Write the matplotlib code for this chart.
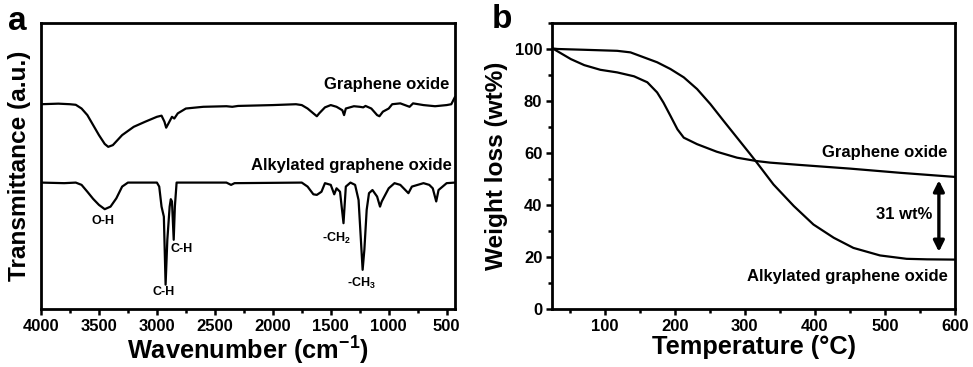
import matplotlib
matplotlib.use("Agg")
import matplotlib.pyplot as plt
from matplotlib.ticker import MultipleLocator

# ---------------- data ----------------
# FTIR (panel a), arbitrary transmittance units
go_wn = [4000, 3850, 3750, 3700, 3650, 3600, 3550, 3500, 3450, 3420, 3380, 3300,
         3200, 3100, 3000, 2960, 2935, 2920, 2900, 2870, 2850, 2820, 2750, 2600,
         2400, 2350, 2300, 2000, 1800, 1750, 1700, 1650, 1620, 1600, 1550, 1500,
         1450, 1400, 1385, 1370, 1300, 1250, 1220, 1200, 1150, 1100, 1080, 1050,
         1000, 970, 900, 820, 790, 700, 600, 500, 460, 430]
go_tr = [71.6, 71.8, 71.6, 71.4, 70.1, 67.8, 64.3, 60.8, 57.7, 56.7, 57.3, 60.8,
         63.7, 65.5, 67.2, 67.6, 65.5, 63.4, 64.9, 67.2, 66.6, 68.4, 70.1, 70.7,
         70.9, 70.7, 71.0, 71.3, 71.6, 71.3, 70.1, 68.4, 67.4, 68.4, 70.5, 71.3,
         70.7, 69.5, 67.8, 70.1, 70.9, 70.7, 70.5, 71.0, 70.1, 67.8, 67.4, 69.0,
         70.1, 71.6, 71.9, 70.7, 71.9, 71.3, 70.9, 71.3, 71.6, 74.0]

ago_wn = [4000, 3800, 3700, 3650, 3600, 3550, 3500, 3450, 3400, 3350, 3300, 3250,
          3000, 2980, 2960, 2940, 2925, 2910, 2890, 2880, 2870, 2855, 2845, 2830,
          2400, 2360, 2330, 1750, 1700, 1650, 1620, 1580, 1550, 1500, 1470, 1450,
          1420, 1390, 1370, 1330, 1290, 1260, 1240, 1225, 1210, 1190, 1170, 1140,
          1100, 1075, 1060, 1000, 950, 900, 830, 800, 700, 650, 620, 590, 570,
          500, 430]
ago_tr = [44.2, 44.0, 44.2, 43.4, 41.0, 38.5, 36.4, 34.9, 35.8, 38.7, 42.8, 44.2,
          44.2, 42.8, 35.8, 32.3, 8.5, 24.2, 35.8, 38.4, 37.6, 24.2, 35.8, 44.2,
          44.2, 43.4, 44.0, 44.2, 42.8, 40.1, 39.9, 41.0, 44.0, 43.4, 40.1, 42.2,
          41.0, 30.0, 42.8, 44.2, 43.4, 38.1, 24.2, 13.7, 20.7, 34.7, 40.5, 41.6,
          39.3, 35.8, 37.6, 42.2, 44.0, 43.4, 40.5, 42.8, 44.0, 43.4, 42.2, 37.6, 41.6,
          44.0, 44.2]

# TGA (panel b)
go_T = [26, 52, 71, 94, 118, 142, 161, 175, 184, 194, 204, 213, 232, 260, 289,
        317, 336, 379, 450, 521, 600]
go_w = [100.2, 96.1, 93.8, 92.0, 91.0, 89.5, 87.2, 83.3, 79.4, 74.3, 69.1, 65.9,
        63.4, 60.5, 58.2, 56.9, 56.3, 55.4, 54.0, 52.4, 50.8]

ago_T = [26, 33, 71, 118, 137, 156, 175, 194, 213, 232, 251, 270, 289, 308, 317,
         341, 370, 398, 427, 455, 493, 531, 560, 600]
ago_w = [100.2, 100.0, 99.7, 99.3, 98.7, 96.8, 94.9, 92.3, 89.1, 84.6, 78.8, 72.3,
         65.9, 59.5, 56.4, 47.9, 39.6, 32.5, 27.4, 23.5, 20.6, 19.3, 19.1, 19.0]

ftir_xticks = [4000, 3500, 3000, 2500, 2000, 1500, 1000, 500]
tga_xticks = [100, 200, 300, 400, 500, 600]
tga_yticks = [0, 20, 40, 60, 80, 100]

# ---------------- style ----------------
plt.rcParams['font.family'] = ['Liberation Sans', 'DejaVu Sans']
plt.rcParams['font.weight'] = 'bold'
plt.rcParams['mathtext.fontset'] = 'custom'
plt.rcParams['mathtext.rm'] = 'Liberation Sans:bold'
plt.rcParams['mathtext.it'] = 'Liberation Sans:bold'
plt.rcParams['mathtext.bf'] = 'Liberation Sans:bold'
plt.rcParams['mathtext.default'] = 'rm'

fig = plt.figure(figsize=(9.73, 3.67), dpi=100)
W, H = 973, 367
axa = fig.add_axes([41 / W, 1 - 309 / H, (455 - 41) / W, (309 - 23) / H])
axb = fig.add_axes([552 / W, 1 - 309 / H, (955 - 552) / W, (309 - 23) / H])

lw = 1.6
for ax in (axa, axb):
    for s in ax.spines.values():
        s.set_linewidth(2.0)
    ax.tick_params(which='both', direction='out', width=1.8, labelsize=12,
                   top=False, right=False)
    ax.tick_params(which='major', length=4, pad=3)
    ax.tick_params(which='minor', length=3)

# ---- panel a ----
axa.plot(go_wn, go_tr, color='black', lw=lw)
axa.plot(ago_wn, ago_tr, color='black', lw=lw)
axa.set_xlim(4000, 428)
axa.set_ylim(0, 100)
axa.set_xticks(ftir_xticks)
axa.xaxis.set_minor_locator(MultipleLocator(250))
axa.set_yticks([])
axa.set_xticklabels([str(t) for t in ftir_xticks], fontweight='bold')
axa.set_xlabel(r'Wavenumber (cm$^{-1}$)', fontsize=18.3, fontweight='bold', labelpad=1)
axa.set_ylabel('Transmittance (a.u.)', fontsize=17.6, fontweight='bold', labelpad=7)

ta = dict(fontsize=12, fontweight='bold', ha='right', va='center')
axa.text(477, 78.6, 'Graphene oxide', **ta)
axa.text(457, 50.3, 'Alkylated graphene oxide', **ta)
sa = dict(fontsize=9, fontweight='bold', ha='center', va='center')
axa.text(3462, 30.6, 'O-H', **sa)
axa.text(2939, 5.9, 'C-H', **sa)
axa.text(2786, 20.9, 'C-H', **sa)
axa.text(1449, 24.8, r'-CH$_2$', **sa)
axa.text(1233, 9.0, r'-CH$_3$', **sa)

# ---- panel b ----
axb.plot(go_T, go_w, color='black', lw=lw)
axb.plot(ago_T, ago_w, color='black', lw=lw)
axb.set_xlim(25, 600)
axb.set_ylim(0, 110)
axb.set_xticks(tga_xticks)
axb.set_yticks(tga_yticks)
axb.xaxis.set_minor_locator(MultipleLocator(50))
axb.yaxis.set_minor_locator(MultipleLocator(10))
axb.set_xticklabels([str(t) for t in tga_xticks], fontweight='bold')
axb.set_yticklabels([str(t) for t in tga_yticks], fontweight='bold')
axb.set_xlabel('Temperature (°C)', fontsize=18.3, fontweight='bold', labelpad=1)
axb.set_ylabel('Weight loss (wt%)', fontsize=17.6, fontweight='bold', labelpad=5)

axb.text(589, 60.2, 'Graphene oxide', **ta)
axb.text(590, 12.6, 'Alkylated graphene oxide', **ta)
axb.text(568, 36.4, '31 wt%', **ta)
axb.annotate('', xy=(577, 49.5), xytext=(577, 22.0),
             arrowprops=dict(arrowstyle='<|-|>', color='black', lw=2.4,
                             mutation_scale=16, shrinkA=0, shrinkB=0))

fig.text(8 / W, 1 - 30 / H, 'a', fontsize=24, fontweight='bold', va='baseline', ha='left')
fig.text(492 / W, 1 - 28 / H, 'b', fontsize=24, fontweight='bold', va='baseline', ha='left')

fig.savefig('out.png', dpi=100)
